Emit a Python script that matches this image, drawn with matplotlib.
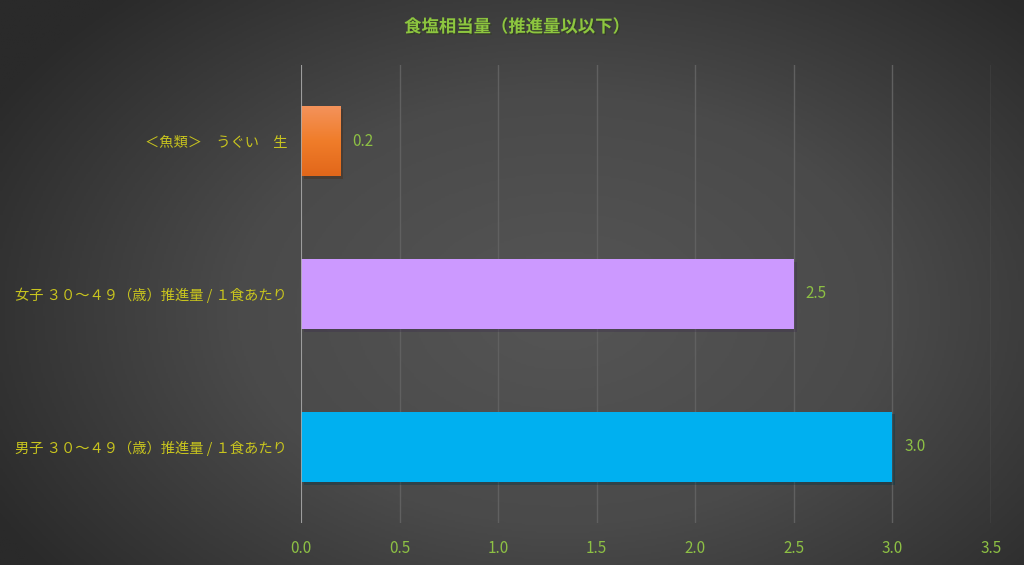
import numpy as np
import matplotlib
matplotlib.use("Agg")
from matplotlib import pyplot as plt
from matplotlib import patheffects as pe
from matplotlib.colors import LinearSegmentedColormap

plt.rcParams['font.family'] = ['Noto Sans CJK JP', 'DejaVu Sans']

title = "食塩相当量（推進量以以下）"
labels = ["男子 ３０～４９（歳）推進量 / １食あたり",
          "女子 ３０～４９（歳）推進量 / １食あたり",
          "＜魚類＞　うぐい　生"]
values = [3.0, 2.5, 0.2]
colors = ["#00B0F0", "#CC99FF", "#F07D2A"]
xticks = [0.0, 0.5, 1.0, 1.5, 2.0, 2.5, 3.0, 3.5]

fig = plt.figure(figsize=(10.24, 5.65), dpi=100)

# radial background
bg = fig.add_axes([0, 0, 1, 1], zorder=-10)
yy, xx = np.mgrid[0:1:300j, 0:1:500j]
r = np.sqrt(((xx - 0.55) / 0.75) ** 2 + ((yy - 0.55) / 0.9) ** 2)
bg.imshow(r, cmap=LinearSegmentedColormap.from_list("bg", ["#555555", "#4a4a4a", "#2a2a2a"]),
          extent=[0, 1, 0, 1], aspect="auto", vmin=0, vmax=0.85)
bg.axis("off")

ax = fig.add_axes([0.2939, 0.0743, 0.6739, 0.8107])
ax.set_facecolor("none")
y = np.arange(len(values))
shadow = [pe.SimplePatchShadow(offset=(2, -2), alpha=0.35), pe.Normal()]
bars = ax.barh(y, values, height=0.46, color=colors, zorder=3, path_effects=shadow)

# gradient on the orange bar (light at top, darker at bottom)
ob = bars[2]
grad = np.linspace(0, 1, 100).reshape(-1, 1)
im = ax.imshow(grad, cmap=LinearSegmentedColormap.from_list("or", ["#F4935C", "#F07D2A", "#E2671A"]),
               origin="upper", extent=[0, values[2], y[2] - 0.23, y[2] + 0.23],
               aspect="auto", zorder=4)
im.set_clip_path(ob)

ax.set_xlim(0, 3.5)
ax.set_ylim(-0.5, 2.5)
ax.set_xticks(xticks)
ax.set_xticklabels([f"{t:.1f}" for t in xticks], color="#8DC044", fontsize=11)
ax.set_yticks(y)
ax.set_yticklabels(labels, color="#C8C41E", fontsize=10.3)
ax.tick_params(length=0)
ax.tick_params(axis="x", pad=12)
ax.tick_params(axis="y", pad=10)
ax.grid(axis="x", color="#606060", linewidth=1, zorder=0)
for s in ax.spines.values():
    s.set_visible(False)
ax.axvline(0, color="#aaaaaa", linewidth=1.2, zorder=5)

for yi, v in zip(y, values):
    ax.text(v + 0.06, yi, f"{v:.1f}", color="#8DC044", fontsize=11, va="center")

fig.text(0.505, 0.952, title, color="#8DC63F", fontsize=12.5, fontweight="bold",
         ha="center", va="center",
         path_effects=[pe.withSimplePatchShadow(offset=(1, -1), alpha=0.5)])

fig.savefig("out.png", dpi=100)
